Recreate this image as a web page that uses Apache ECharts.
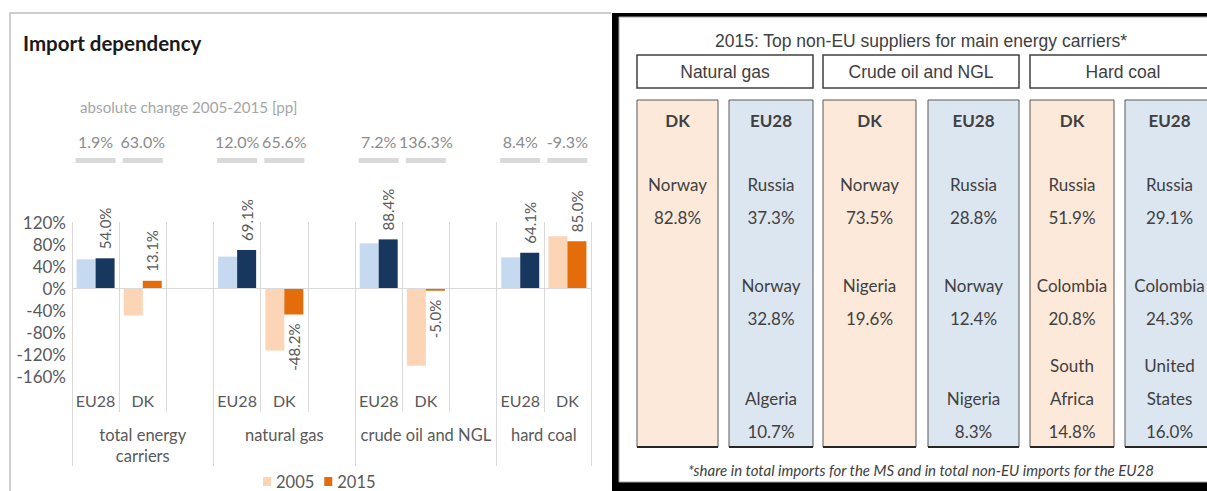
<!DOCTYPE html>
<html>
<head>
<meta charset="utf-8">
<title>Import dependency</title>
<script src="https://cdn.jsdelivr.net/npm/echarts@6/dist/echarts.min.js"></script>
<style>
  html, body { margin: 0; padding: 0; background: #fff; }
  #chart { width: 1207px; height: 491px; }
</style>
</head>
<body>
<div id="chart"></div>
<script>
// ---- left chart data ----
const slots = ['EU28', 'DK', '', 'EU28', 'DK', '', 'EU28', 'DK', '', 'EU28', 'DK'];
const carriers = ['total energy\ncarriers', 'natural gas', 'crude oil and NGL', 'hard coal'];
const groupSizes = [3, 3, 3, 2];
const dep2005 = [52.1, -49.9, null, 57.1, -113.8, null, 81.2, -141.3, null, 55.7, 94.3];
const dep2015 = [54.0, 13.1, null, 69.1, -48.2, null, 88.4, -5.0, null, 64.1, 85.0];
const change = [1.9, 63.0, null, 12.0, 65.6, null, 7.2, 136.3, null, 8.4, -9.3];
const yMin = -160, yMax = 120, yStep = 40;

// ---- right table data ----
const tableTitle = '2015: Top non-EU suppliers for main energy carriers*';
const tableCarriers = ['Natural gas', 'Crude oil and NGL', 'Hard coal'];
const tableRegions = ['DK', 'EU28'];
const dkGas = [['Norway', 82.8]];
const euGas = [['Russia', 37.3], ['Norway', 32.8], ['Algeria', 10.7]];
const dkOil = [['Norway', 73.5], ['Nigeria', 19.6]];
const euOil = [['Russia', 28.8], ['Norway', 12.4], ['Nigeria', 8.3]];
const dkCoal = [['Russia', 51.9], ['Colombia', 20.8], ['South\nAfrica', 14.8]];
const euCoal = [['Russia', 29.1], ['Colombia', 24.3], ['United\nStates', 16.0]];
const footnote = '*share in total imports for the MS and in total non-EU imports for the EU28';

// colours
const EU05 = '#C5D9F1', EU15 = '#17375E', DK05 = '#FBD5B5', DK15 = '#E46C0A';
const GRID = '#D9D9D9', AXIS_TXT = '#595959';

// group ticks / label positions on the helper axis
const groupEdges = [0];
groupSizes.forEach(s => groupEdges.push(groupEdges[groupEdges.length - 1] + s));
const groupCenters = groupSizes.map((s, i) => groupEdges[i] + s / 2);

// narrow font check (Arial Narrow look-alike for the table headings)
function hasFont(name) {
  const c = document.createElement('canvas').getContext('2d');
  c.font = '20px monospace';
  const a = c.measureText('Natural gas 2015').width;
  c.font = '20px "' + name + '", monospace';
  return c.measureText('Natural gas 2015').width !== a;
}
const narrow = hasFont('Liberation Sans Narrow')
  ? { family: '"Liberation Sans Narrow"', size: 19 }
  : { family: '"Liberation Sans"', size: 17.5 };

const pct = v => v.toFixed(1) + '%';

// ---- table layout (pixels) ----
const colX = [[637, 718], [729, 813], [823, 916], [928, 1019], [1030, 1114], [1125, 1214]];
const headX = [[637, 813], [823, 1019], [1030, 1216]];
const rowY = [184, 285, 398];
const columns = [dkGas, euGas, dkOil, euOil, dkCoal, euCoal];

const graphics = [];
// left frame
graphics.push({ type: 'polyline', shape: { points: [[10, 495], [10, 13], [611, 13]] },
  style: { stroke: '#BFBFBF', lineWidth: 1.5, fill: null } });
graphics.push({ type: 'text', x: 23, y: 43, style: { text: 'Import dependency',
  font: 'bold 20.5px Lato', fill: '#1a1a1a', verticalAlign: 'middle' } });
graphics.push({ type: 'text', x: 80, y: 107, style: { text: 'absolute change 2005-2015 [pp]',
  font: '15.2px Lato', fill: '#A6A6A6', verticalAlign: 'middle' } });

// right panel
graphics.push({ type: 'rect', shape: { x: 612, y: 13, width: 620, height: 490 }, style: { fill: '#000' } });
graphics.push({ type: 'rect', shape: { x: 619, y: 17, width: 600, height: 465 },
  style: { fill: '#fff', stroke: '#A6A6A6', lineWidth: 1 } });
graphics.push({ type: 'text', x: 921, y: 41, style: { text: tableTitle,
  font: narrow.size + 'px ' + narrow.family, fill: '#404040', align: 'center', verticalAlign: 'middle' } });
tableCarriers.forEach((name, i) => {
  const [x0, x1] = headX[i];
  graphics.push({ type: 'rect', shape: { x: x0, y: 55, width: x1 - x0, height: 33 },
    style: { fill: '#fff', stroke: '#404040', lineWidth: 1.5 } });
  graphics.push({ type: 'text', x: (x0 + x1) / 2, y: 72, style: { text: name,
    font: narrow.size + 'px ' + narrow.family, fill: '#404040', align: 'center', verticalAlign: 'middle' } });
});
columns.forEach((rows, c) => {
  const [x0, x1] = colX[c];
  const cx = (x0 + x1) / 2;
  const isDK = c % 2 === 0;
  graphics.push({ type: 'rect', shape: { x: x0, y: 100, width: x1 - x0, height: 347 },
    style: { fill: isDK ? '#FDE9D9' : '#DCE6F1', stroke: '#595959', lineWidth: 1 } });
  graphics.push({ type: 'line', shape: { x1: x0, y1: 447, x2: x1, y2: 447 },
    style: { stroke: '#262626', lineWidth: 2 } });
  graphics.push({ type: 'text', x: cx, y: 120, style: { text: tableRegions[c % 2],
    font: 'bold 17px Lato', fill: '#404040', align: 'center', verticalAlign: 'middle' } });
  rows.forEach((r, i) => {
    graphics.push({ type: 'text', x: cx, y: rowY[i] + 16.5, style: { text: r[0],
      font: '17px Lato', lineHeight: 33, fill: '#404040', align: 'center', verticalAlign: 'bottom' } });
    graphics.push({ type: 'text', x: cx, y: rowY[i] + 33.5, style: { text: pct(r[1]),
      font: '17px Lato', fill: '#404040', align: 'center', verticalAlign: 'middle' } });
  });
});
graphics.push({ type: 'text', x: 921, y: 470, style: { text: footnote,
  font: 'italic 15px Lato', fill: '#404040', align: 'center', verticalAlign: 'middle' } });

const chart = echarts.init(document.getElementById('chart'), null, { renderer: 'svg' });

const option = {
  animation: false,
  textStyle: { fontFamily: 'Lato' },
  grid: [
    { left: 72, right: 616, top: 222, bottom: 115 },
    { left: 72, right: 616, top: 158, height: 5 }
  ],
  xAxis: [
    {
      type: 'category', gridIndex: 0, data: slots,
      axisLine: { show: false, onZero: false },
      axisTick: { show: true, length: 36, lineStyle: { color: GRID } },
      axisLabel: { interval: 0, margin: 16, color: AXIS_TXT, fontSize: 16 },
      splitLine: { show: true, lineStyle: { color: GRID } }
    },
    {
      type: 'value', gridIndex: 0, position: 'bottom', offset: 36,
      min: 0, max: groupEdges[groupEdges.length - 1],
      axisLine: { show: false, onZero: false },
      splitLine: { show: false },
      axisTick: { show: true, customValues: groupEdges, length: 54, lineStyle: { color: GRID } },
      axisLabel: {
        customValues: groupCenters, margin: 12, lineHeight: 21,
        color: AXIS_TXT, fontSize: 16.5,
        formatter: v => carriers[groupCenters.indexOf(v)] || ''
      }
    },
    { type: 'category', gridIndex: 1, data: slots, show: false }
  ],
  yAxis: [
    {
      type: 'value', gridIndex: 0, min: yMin, max: yMax, interval: yStep,
      axisLine: { show: false }, axisTick: { show: false }, splitLine: { show: false },
      axisLabel: { formatter: '{value}%', color: AXIS_TXT, fontSize: 17, margin: 6 }
    },
    { type: 'value', gridIndex: 1, min: 0, max: 1, show: false }
  ],
  legend: {
    data: ['2005', '2015'], left: 258, top: 468, icon: 'rect',
    itemWidth: 8, itemHeight: 9, itemGap: 10,
    textStyle: { fontSize: 16.5, color: AXIS_TXT }
  },
  series: [
    {
      name: '2005', type: 'bar', xAxisIndex: 0, yAxisIndex: 0,
      barWidth: 19, barGap: 0,
      itemStyle: { color: DK05 },
      data: dep2005.map((v, i) => slots[i] === 'EU28' ? { value: v, itemStyle: { color: EU05 } } : v)
    },
    {
      name: '2015', type: 'bar', xAxisIndex: 0, yAxisIndex: 0,
      barWidth: 19, barGap: 0,
      itemStyle: { color: DK15 },
      label: {
        show: true, rotate: 90, verticalAlign: 'middle', distance: 9,
        color: AXIS_TXT, fontSize: 15,
        formatter: p => p.value == null ? '' : pct(p.value)
      },
      data: dep2015.map((v, i) => {
        if (v == null) return null;
        const item = {
          value: v,
          label: v >= 0 ? { position: 'top', align: 'left' } : { position: 'bottom', align: 'right' }
        };
        if (slots[i] === 'EU28') item.itemStyle = { color: EU15 };
        return item;
      }),
      markLine: {
        silent: true, symbol: 'none', label: { show: false },
        lineStyle: { color: GRID, type: 'solid', width: 1 },
        data: [{ yAxis: 0 }]
      }
    },
    {
      name: 'change', type: 'bar', xAxisIndex: 2, yAxisIndex: 1,
      barWidth: 40, itemStyle: { color: GRID },
      label: {
        show: true, position: 'top', distance: 9, color: '#8C8C8C', fontSize: 16,
        formatter: p => pct(change[p.dataIndex])
      },
      data: change.map(v => v == null ? null : 1)
    }
  ],
  graphic: graphics
};

chart.setOption(option);
</script>
</body>
</html>
